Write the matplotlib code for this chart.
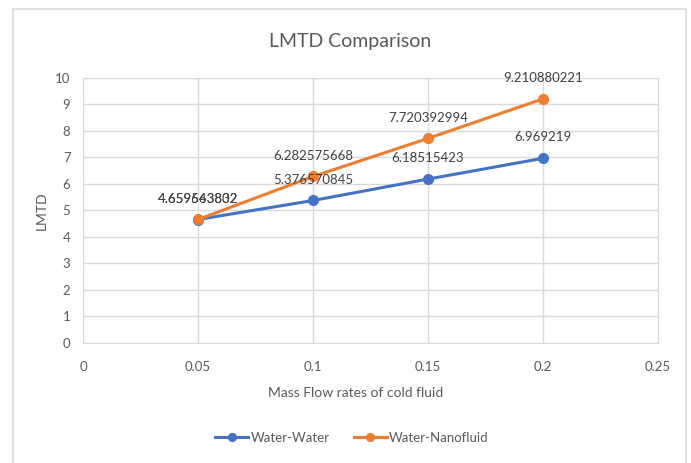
import matplotlib.pyplot as plt
from matplotlib.patches import Rectangle

# data
flow = [0.05, 0.1, 0.15, 0.2]
water_water = [4.659563802, 5.376570845, 6.18515423, 6.969219]
water_nano = [4.659643832, 6.282575668, 7.720392994, 9.210880221]
ww_labels = ['4.659563802', '5.376570845', '6.18515423', '6.969219']
wn_labels = ['4.659643832', '6.282575668', '7.720392994', '9.210880221']

plt.rcParams['font.family'] = ['Lato', 'DejaVu Sans']

blue = '#4472C4'
orange = '#ED7D31'
txt = '#595959'
grid = '#D9D9D9'

fig = plt.figure(figsize=(6.91, 4.63), dpi=100)
ax = fig.add_axes([0.1201, 0.2592, 0.8321, 0.5724])

# outer chart border (runs off the bottom of the image)
fig.patches.append(Rectangle((13.5/691, -0.05), 672.5/691, 1.05 - 9/463,
                             transform=fig.transFigure, fill=False,
                             edgecolor=grid, linewidth=1.2))

ax.plot(flow, water_water, color=blue, lw=2.2, marker='o', ms=7, label='Water-Water', zorder=3)
ax.plot(flow, water_nano, color=orange, lw=2.2, marker='o', ms=7, label='Water-Nanofluid', zorder=3)

# data labels above points
for x, y, s in zip(flow, water_water, ww_labels):
    ax.annotate(s, (x, y), xytext=(0, 15), textcoords='offset points',
                ha='center', va='center', fontsize=9.5, color='#404040')
for x, y, s in zip(flow, water_nano, wn_labels):
    ax.annotate(s, (x, y), xytext=(0, 15), textcoords='offset points',
                ha='center', va='center', fontsize=9.5, color='#404040')

ax.set_xlim(0, 0.25)
ax.set_ylim(0, 10)
ax.set_xticks([0, 0.05, 0.1, 0.15, 0.2, 0.25])
ax.set_xticklabels(['0', '0.05', '0.1', '0.15', '0.2', '0.25'])
ax.set_yticks(range(0, 11))
ax.grid(True, color=grid, lw=1)
ax.set_axisbelow(True)
for sp in ax.spines.values():
    sp.set_color(grid)
ax.tick_params(length=0, colors=txt, labelsize=9.5)
ax.tick_params(axis='x', pad=13)
ax.tick_params(axis='y', pad=9)

fig.text(350/691, 1-42/463, 'LMTD Comparison', fontsize=14, color=txt, ha='center', va='center')
fig.text(356/691, 1-393/463, 'Mass Flow rates of cold fluid', fontsize=10, color=txt,
         ha='center', va='center')
fig.text(42/691, 1-211/463, 'LMTD', fontsize=10, color=txt, rotation=90,
         ha='center', va='center')

fig.legend(loc='center', bbox_to_anchor=(352/691, 1-438/463), ncol=2, frameon=False,
           fontsize=9.5, labelcolor=txt, handlelength=2.5, handletextpad=0.2,
           columnspacing=1.8, markerscale=0.8)

fig.savefig('out.png', dpi=100)
